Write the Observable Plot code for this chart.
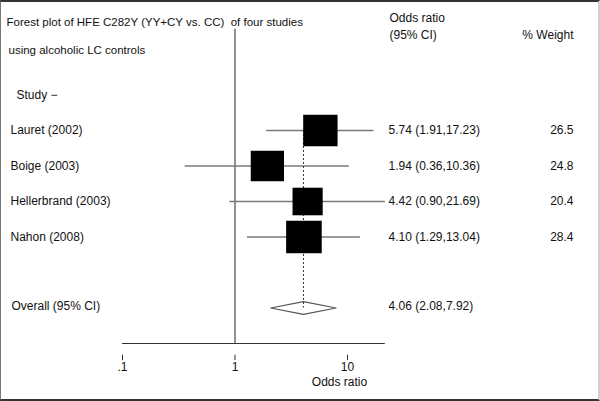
<!DOCTYPE html>
<html>
<head>
<meta charset="utf-8">
<script src="https://cdn.jsdelivr.net/npm/d3@7"></script>
<script src="https://cdn.jsdelivr.net/npm/@observablehq/plot@0.6"></script>
<style>
  html, body { margin: 0; padding: 0; background: #fff; }
  #wrap { position: relative; width: 600px; height: 401px; overflow: hidden; }
  #border { position: absolute; left: 0; top: 0; width: 600px; height: 401px; box-sizing: border-box;
    border-top: 2px solid #333; border-bottom: 2px solid #333; border-left: 1px solid #777; border-right: 2px solid #d0d0d0; pointer-events: none; }
  svg { font-family: "Liberation Sans", Arial, sans-serif; }
</style>
</head>
<body>
<div id="wrap"><div id="chart"></div><div id="border"></div></div>
<script>
// ---- data ----
const studies = ["Lauret (2002)", "Boige (2003)", "Hellerbrand (2003)", "Nahon (2008)"];
const oddsRatios = [5.74, 1.94, 4.42, 4.10];
const ciLow = [1.91, 0.36, 0.90, 1.29];
const ciHigh = [17.23, 10.36, 21.69, 13.04];
const weights = [26.5, 24.8, 20.4, 28.4];
const overallLabel = "Overall (95% CI)";
const overallOR = 4.06;
const overallLow = 2.08;
const overallHigh = 7.92;
const tickValues = [0.1, 1, 10];
const tickLabels = [".1", "1", "10"];
const titleLines = ["Forest plot of HFE C282Y (YY+CY vs. CC)  of four studies", "using alcoholic LC controls"];
const headerStudy = "Study \u2212";
const headerOR = ["Odds ratio", "(95% CI)"];
const headerWeight = "% Weight";
const axisLabel = "Odds ratio";

// ---- tables built from arrays ----
const fmt = d3.format(".2f");
const rows = studies.map((s, i) => ({
  label: s, row: i + 1, or: oddsRatios[i], lo: ciLow[i], hi: ciHigh[i], w: weights[i],
  text: `${fmt(oddsRatios[i])} (${fmt(ciLow[i])},${fmt(ciHigh[i])})`
}));
const overallRow = 6;
const axisRow = 7;
const dh = 0.18;
const diamond = [
  {x: overallLow, y: overallRow}, {x: overallOR, y: overallRow - dh},
  {x: overallHigh, y: overallRow}, {x: overallOR, y: overallRow + dh},
  {x: overallLow, y: overallRow}
];
const ticks = tickValues.map((v, i) => ({v, label: tickLabels[i]}));
const xMax = d3.max(ciHigh);

const rectSymbol = {
  draw(ctx, size) {
    const s = Math.sqrt(size);
    const w = s * 1.046, h = s * 0.956;
    ctx.rect(-w / 2, -h / 2, w, h);
  }
};

const txt = {fontSize: 12, fill: "#111"};
const ttl = {fontSize: 11.5, fill: "#111", style: "white-space: pre"};

const chart = Plot.plot({
  width: 600, height: 401,
  margin: 0,
  style: {fontFamily: "'Liberation Sans', Arial, sans-serif", fontSize: "12px", background: "transparent"},
  x: {type: "log", domain: [0.1, 10], range: [122, 347], axis: null},
  y: {type: "linear", domain: [0, 7], range: [94.5, 343], axis: null},
  r: {type: "sqrt", domain: [0, 28.4], range: [0, 19.2]},
  marks: [
    // null line at OR = 1
    Plot.ruleX([1], {x: d => d, y1: -1.85, y2: axisRow, stroke: "#222", strokeWidth: 1}),
    // x axis line
    Plot.ruleY([axisRow], {y: d => d, x1: tickValues[0], x2: xMax, stroke: "#333", strokeWidth: 1}),
    // tick marks and labels
    Plot.ruleX(ticks, {x: "v", y1: 7.33, y2: 7.48, stroke: "#333", strokeWidth: 1}),
    Plot.text(ticks, {x: "v", y: 7.68, text: "label", ...txt}),
    Plot.text([axisLabel], {x: tickValues[2], y: 8.1, text: d => d, dx: -8, ...txt}),
    // confidence intervals
    Plot.ruleY(rows, {y: "row", x1: "lo", x2: "hi", stroke: "#7a7a7a", strokeWidth: 1.6}),
    // overall diamond
    Plot.line(diamond, {x: "x", y: "y", stroke: "#555", strokeWidth: 1.2, fill: "none"}),
    // dashed overall estimate line
    Plot.ruleX([overallOR], {x: d => d, y1: 1, y2: overallRow, stroke: "#333", strokeWidth: 1, strokeDasharray: "2,2"}),
    // weighted squares
    Plot.dot(rows, {x: "or", y: "row", r: "w", symbol: rectSymbol, fill: "#000", stroke: "none"}),
    // row labels
    Plot.text(rows, {y: "row", text: "label", frameAnchor: "left", dx: 10, textAnchor: "start", ...txt}),
    Plot.text([overallLabel], {y: overallRow, text: d => d, frameAnchor: "left", dx: 11, dy: -2, textAnchor: "start", ...txt}),
    Plot.text(rows, {y: "row", text: "text", frameAnchor: "left", dx: 388, textAnchor: "start", ...txt}),
    Plot.text([`${fmt(overallOR)} (${fmt(overallLow)},${fmt(overallHigh)})`], {y: overallRow, text: d => d, frameAnchor: "left", dx: 388, dy: -2, textAnchor: "start", ...txt}),
    Plot.text(rows, {y: "row", text: d => d.w.toFixed(1), frameAnchor: "right", dx: -27, textAnchor: "end", ...txt}),
    // headers
    Plot.text([titleLines[0]], {text: d => d, frameAnchor: "top-left", dx: 6, dy: 17, textAnchor: "start", ...ttl}),
    Plot.text([titleLines[1]], {text: d => d, frameAnchor: "top-left", dx: 8, dy: 45, textAnchor: "start", ...ttl}),
    Plot.text([headerStudy], {y: 0, text: d => d, frameAnchor: "left", dx: 16, textAnchor: "start", ...txt}),
    Plot.text([headerOR[0]], {text: d => d, frameAnchor: "top-left", dx: 389, dy: 13, textAnchor: "start", ...txt}),
    Plot.text([headerOR[1]], {text: d => d, frameAnchor: "top-left", dx: 389, dy: 30, textAnchor: "start", ...txt}),
    Plot.text([headerWeight], {text: d => d, frameAnchor: "top-right", dx: -27, dy: 30, textAnchor: "end", ...txt})
  ]
});
document.getElementById("chart").appendChild(chart);
</script>
</body>
</html>
